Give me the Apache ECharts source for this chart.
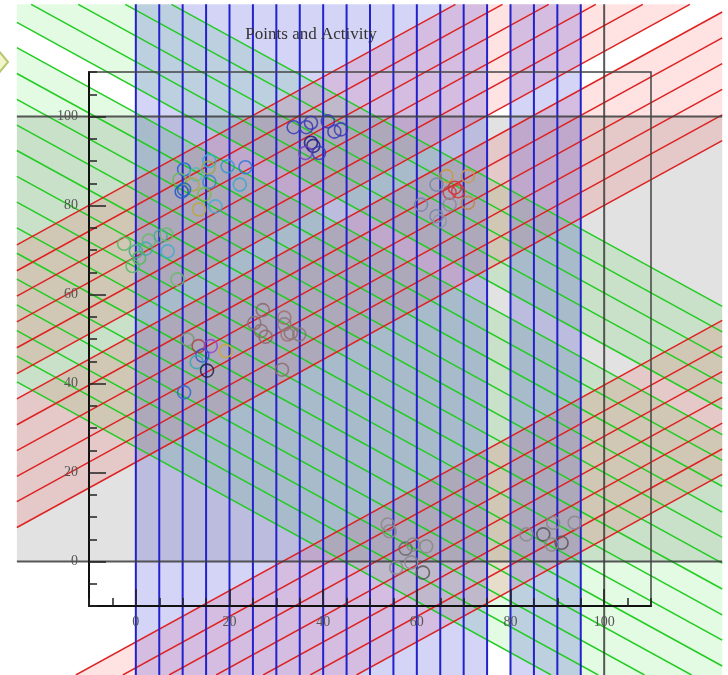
<!DOCTYPE html>
<html>
<head>
<meta charset="utf-8">
<script src="https://cdn.jsdelivr.net/npm/echarts@6/dist/echarts.min.js"></script>
<style>
  html, body { margin: 0; padding: 0; background: #ffffff; }
  #chart { width: 728px; height: 675px; }
</style>
</head>
<body>
<div id="chart"></div>
<script>
// ---------- point data ----------
const pointX = [
  33.7, 36.4, 37.4, 41.0, 42.4, 43.8, 37.4, 37.9, 36.2, 39.1,
  10.3, 15.7, 15.5, 12.8, 9.3, 12.1, 15.7, 19.6, 23.4, 22.2, 9.8, 10.3, 14.6, 13.5, 17.0,
  -2.5, 0.0, 0.7, -0.7, 2.8, 2.1, 5.3, 6.5, 6.8, 8.9,
  11.0, 13.4, 16.0, 14.2, 13.0, 15.2, 19.2, 10.3,
  27.1, 25.3, 26.7, 27.7, 31.7, 31.7, 32.4, 33.1, 34.9, 31.2,
  66.3, 70.9, 64.2, 68.1, 67.0, 68.8, 60.9, 67.0, 70.9, 64.2, 64.9,
  53.8, 54.2, 57.6, 59.2, 62.0, 58.8, 55.6, 61.3,
  83.4, 87.0, 89.1, 90.9, 93.7, 88.8
];
const pointY = [
  97.6, 97.6, 98.6, 98.9, 96.6, 97.1, 94.1, 93.4, 91.8, 91.8,
  88.1, 90.0, 88.5, 87.0, 85.8, 84.7, 85.3, 88.8, 88.6, 84.7, 83.1, 83.6, 82.5, 79.1, 79.8,
  71.4, 69.7, 68.2, 66.4, 72.1, 70.3, 73.1, 73.5, 69.7, 63.4,
  49.9, 48.4, 48.4, 46.3, 44.8, 42.9, 47.3, 38.0,
  56.5, 53.6, 51.8, 50.5, 54.8, 53.3, 51.0, 51.4, 51.0, 43.1,
  86.6, 86.6, 84.7, 84.0, 82.9, 83.2, 80.2, 80.2, 80.6, 77.6, 76.5,
  8.3, 6.8, 2.9, 3.8, 3.4, -0.2, -1.4, -2.5,
  6.1, 6.1, 8.7, 4.2, 8.7, 3.8
];
const pointColor = [
  '#3a3ab8', '#3a3ab8', '#3a3ab8', '#3a3ab8', '#3a3ab8', '#3a3ab8', '#1c1c80', '#1c1c80', '#7a44c0', '#3a3ab8',
  '#2266dd', '#33aadd', '#99aa44', '#55bbaa', '#66bb55', '#aaaa44', '#3388cc', '#3399cc', '#3377dd', '#33aacc', '#2255cc', '#2266bb', '#77bb44', '#bbaa33', '#44aacc',
  '#55bb66', '#44aa88', '#55bb55', '#55bb66', '#66bb66', '#44aaaa', '#44aa99', '#66bb66', '#44aacc', '#66bb66',
  '#779977', '#aa4444', '#9944cc', '#3355cc', '#33aaaa', '#222244', '#ccaa33', '#3366cc',
  '#8a6a6a', '#8a7070', '#907070', '#8a6a6a', '#a07070', '#887777', '#a07070', '#907070', '#887777', '#8a7070',
  '#cc9933', '#cc9944', '#7788aa', '#cc3333', '#bb4444', '#dd3333', '#7788aa', '#888899', '#bb8844', '#7788aa', '#8899aa',
  '#888888', '#888888', '#666666', '#888888', '#888888', '#888888', '#888888', '#555555',
  '#888888', '#555555', '#888888', '#555555', '#888888', '#888888'
];

// ---------- hatching families ----------
// rising lines  y =  tan(30deg) * x + c
const redOffsets = [22.3, 28.1, 33.8, 39.6, 45.4, 51.2, 56.9, 62.7, 68.5, 74.3, 80.0, 85.8,
                    -18.1, -23.9, -29.6, -35.4, -41.2, -47.0, -52.7];
const redBands = [[22.3, 51.2], [56.9, 85.8], [-52.7, -18.1]];
// falling lines y = -tan(30deg) * x + c
const greenOffsets = [25.7, 31.5, 37.2, 43.0, 48.8, 54.6, 60.3, 66.1, 71.9, 77.7,
                      83.4, 89.2, 95.0, 100.8, 106.5, 112.3, 118.1, 123.9, 129.6];
const greenBands = [[25.7, 100.8], [106.5, 129.6]];
// vertical lines x = c
const blueOffsets = [0, 5, 10, 15, 20, 25, 30, 35, 40, 45, 50, 55, 60, 65, 70, 75, 80, 85, 90, 95];
const blueBands = [[0, 75], [80, 95]];

// reference frame
const shadedRange = [[0, 100]];
const refLinesY = [0, 100];
const refLinesX = [100];

// axis labels
const xTickLabels = [0, 20, 40, 60, 80, 100];
const yTickLabels = [0, 20, 40, 60, 80, 100];

// ---------- geometry helpers (data space) ----------
const SLOPE = Math.tan(Math.PI / 6);
const VIEW = { x0: -25.4, x1: 125.2, y0: -25.5, y1: 125.2 };

function viewSquare() {
  return [[VIEW.x0, VIEW.y0], [VIEW.x1, VIEW.y0], [VIEW.x1, VIEW.y1], [VIEW.x0, VIEW.y1]];
}
// keep the part of a polygon where a*x + b*y <= c
function clipHalf(poly, a, b, c) {
  const out = [];
  for (let i = 0; i < poly.length; i++) {
    const P = poly[i], Q = poly[(i + 1) % poly.length];
    const fp = a * P[0] + b * P[1] - c;
    const fq = a * Q[0] + b * Q[1] - c;
    if (fp <= 0) out.push(P);
    if ((fp < 0 && fq > 0) || (fp > 0 && fq < 0)) {
      const t = fp / (fp - fq);
      out.push([P[0] + t * (Q[0] - P[0]), P[1] + t * (Q[1] - P[1])]);
    }
  }
  return out;
}
function slantStrip(m, c1, c2) {
  let p = viewSquare();
  p = clipHalf(p, m, -1, -c1);
  p = clipHalf(p, -m, 1, c2);
  return p;
}
function slantSegment(m, c) {
  const xs = [(VIEW.y0 - c) / m, (VIEW.y1 - c) / m].sort((a, b) => a - b);
  const xa = Math.max(VIEW.x0, xs[0]);
  const xb = Math.min(VIEW.x1, xs[1]);
  if (xa >= xb) return null;
  return [[xa, m * xa + c], [xb, m * xb + c]];
}

function stripSeries(bands, m, fill, z) {
  return {
    type: 'custom', coordinateSystem: 'cartesian2d', clip: false, silent: true, z: z,
    data: bands,
    renderItem: function (params, api) {
      const c1 = api.value(0), c2 = api.value(1);
      const poly = (m === null)
        ? [[c1, VIEW.y0], [c2, VIEW.y0], [c2, VIEW.y1], [c1, VIEW.y1]]
        : slantStrip(m, c1, c2);
      if (poly.length < 3) return null;
      return { type: 'polygon', shape: { points: poly.map(q => api.coord(q)) }, style: { fill: fill } };
    }
  };
}
function hatchSeries(offsets, m, stroke, width, z) {
  return {
    type: 'custom', coordinateSystem: 'cartesian2d', clip: false, silent: true, z: z,
    data: offsets.map(c => [c]),
    renderItem: function (params, api) {
      const c = api.value(0);
      const seg = (m === null) ? [[c, VIEW.y0], [c, VIEW.y1]] : slantSegment(m, c);
      if (!seg) return null;
      const a = api.coord(seg[0]), b = api.coord(seg[1]);
      return { type: 'line', shape: { x1: a[0], y1: a[1], x2: b[0], y2: b[1] },
               style: { stroke: stroke, lineWidth: width } };
    }
  };
}

const serif = '"Liberation Serif", "DejaVu Serif", serif';

function makeAxes(labels, pos) {
  const common = { type: 'value', min: -10, max: 110, splitLine: { show: false }, z: 20 };
  return [
    Object.assign({}, common, {
      position: pos, interval: 5,
      axisLine: { show: true, onZero: false, lineStyle: { color: '#111', width: 2 } },
      axisTick: { show: true, inside: true, length: 8, lineStyle: { color: '#222', width: 1.5 } },
      axisLabel: {
        show: true, margin: pos === 'left' ? 11 : 9,
        fontFamily: serif, fontSize: 14, color: '#555',
        formatter: v => labels.indexOf(v) >= 0 ? String(v) : ''
      }
    }),
    Object.assign({}, common, {
      position: pos,
      axisLine: { show: false, onZero: false },
      axisTick: { show: true, inside: true, length: 17, customValues: labels, lineStyle: { color: '#222', width: 1.5 } },
      axisLabel: { show: false }
    })
  ];
}

const chart = echarts.init(document.getElementById('chart'));
chart.setOption({
  animation: false,
  backgroundColor: '#ffffff',
  title: {
    text: 'Points and Activity', left: 306, top: 21, textAlign: 'center',
    textStyle: { fontFamily: serif, fontSize: 17, fontWeight: 'normal', color: '#333' }
  },
  grid: { left: 89, top: 72, width: 562, height: 534, show: true,
          borderColor: '#444', borderWidth: 1.5, backgroundColor: 'transparent', z: 20 },
  xAxis: makeAxes(xTickLabels, 'bottom'),
  yAxis: makeAxes(yTickLabels, 'left'),
  graphic: [{
    type: 'polygon', z: 30,
    shape: { points: [[-12, 62], [-2, 50], [8, 62], [-2, 74]] },
    style: { fill: '#f2f4cc', stroke: '#b8c870', lineWidth: 2 }
  }],
  series: [
    // shaded horizontal band
    {
      type: 'custom', coordinateSystem: 'cartesian2d', clip: false, silent: true, z: 1,
      data: shadedRange,
      renderItem: function (params, api) {
        const a = api.coord([VIEW.x0, api.value(1)]);
        const b = api.coord([VIEW.x1, api.value(0)]);
        return { type: 'rect', shape: { x: a[0], y: a[1], width: b[0] - a[0], height: b[1] - a[1] },
                 style: { fill: '#e2e2e2' } };
      }
    },
    stripSeries(greenBands, -SLOPE, 'rgba(40,215,40,0.13)', 2),
    stripSeries(redBands, SLOPE, 'rgba(255,40,40,0.13)', 2),
    stripSeries(blueBands, null, 'rgba(40,40,215,0.2)', 2),
    hatchSeries(greenOffsets, -SLOPE, '#22cc22', 1.5, 3),
    hatchSeries(redOffsets, SLOPE, '#dd2222', 1.5, 3),
    hatchSeries(blueOffsets, null, '#2222cc', 2, 4),
    // reference lines
    {
      type: 'custom', coordinateSystem: 'cartesian2d', clip: false, silent: true, z: 5,
      data: refLinesY.map(v => [v, 0]).concat(refLinesX.map(v => [v, 1])),
      renderItem: function (params, api) {
        const v = api.value(0), vertical = api.value(1) === 1;
        const a = api.coord(vertical ? [v, VIEW.y0] : [VIEW.x0, v]);
        const b = api.coord(vertical ? [v, VIEW.y1] : [VIEW.x1, v]);
        return { type: 'line', shape: { x1: a[0], y1: a[1], x2: b[0], y2: b[1] },
                 style: { stroke: 'rgba(60,60,60,0.85)', lineWidth: 2 } };
      }
    },
    {
      type: 'scatter', z: 10, clip: false, silent: true,
      symbol: 'circle', symbolSize: 13,
      data: pointX.map((x, i) => ({
        value: [x, pointY[i]],
        itemStyle: { color: 'transparent', borderColor: pointColor[i], borderWidth: 1.6, opacity: 0.85 }
      }))
    }
  ]
});
</script>
</body>
</html>
